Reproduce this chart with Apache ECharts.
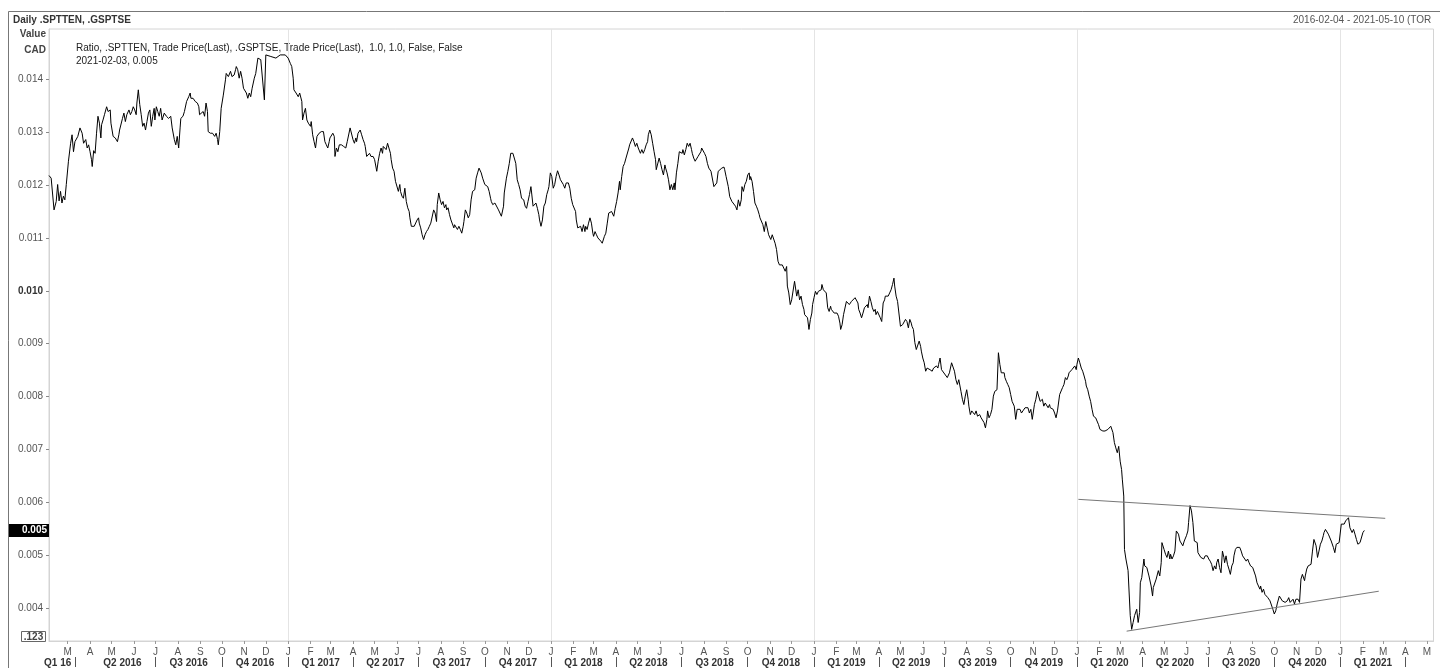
<!DOCTYPE html>
<html>
<head>
<meta charset="utf-8">
<script src="https://cdn.jsdelivr.net/npm/echarts@6/dist/echarts.min.js"></script>
<style>
html, body { margin: 0; padding: 0; background: #fff; }
#main { width: 1440px; height: 668px; }
</style>
</head>
<body>
<div id="main"></div>
<script>
// axis range (calendar days) and tick labels
const startDate = '2016-02-04';
const endDate = '2021-05-10';
const yTicks = [0.004, 0.005, 0.006, 0.007, 0.008, 0.009, 0.010, 0.011, 0.012, 0.013, 0.014];
const monthLetters = ['J', 'F', 'M', 'A', 'M', 'J', 'J', 'A', 'S', 'O', 'N', 'D'];
const quarterLabels = [
  ['2016-02-16', 'Q1 16'], ['2016-05-16', 'Q2 2016'], ['2016-08-16', 'Q3 2016'], ['2016-11-16', 'Q4 2016'],
  ['2017-02-15', 'Q1 2017'], ['2017-05-16', 'Q2 2017'], ['2017-08-16', 'Q3 2017'], ['2017-11-16', 'Q4 2017'],
  ['2018-02-15', 'Q1 2018'], ['2018-05-16', 'Q2 2018'], ['2018-08-16', 'Q3 2018'], ['2018-11-16', 'Q4 2018'],
  ['2019-02-15', 'Q1 2019'], ['2019-05-16', 'Q2 2019'], ['2019-08-16', 'Q3 2019'], ['2019-11-16', 'Q4 2019'],
  ['2020-02-15', 'Q1 2020'], ['2020-05-16', 'Q2 2020'], ['2020-08-16', 'Q3 2020'], ['2020-11-16', 'Q4 2020'],
  ['2021-02-15', 'Q1 2021']
];
const quarterSeps = ['2016-03-11', '2016-07-01', '2016-10-01',
  '2017-01-01', '2017-04-01', '2017-07-01', '2017-10-01',
  '2018-01-01', '2018-04-01', '2018-07-01', '2018-10-01',
  '2019-01-01', '2019-04-01', '2019-07-01', '2019-10-01',
  '2020-01-01', '2020-04-01', '2020-07-01', '2020-10-01',
  '2021-01-01', '2021-04-01'];

// ratio .SPTTEN / .GSPTSE, [month-day, value] per year
const ratio2016 = [['02-04',0.01218],['02-07',0.01213],['02-11',0.01153],['02-14',0.01169],['02-16',0.01201],['02-18',0.01170],['02-20',0.01188],['02-22',0.01166],['02-24',0.01179],['02-26',0.01172],['02-28',0.01201],['03-02',0.01245],['03-05',0.01279],['03-07',0.01295],['03-09',0.01263],['03-11',0.01282],['03-13',0.01279],['03-15',0.01292],['03-18',0.01308],['03-21',0.01298],['03-23',0.01279],['03-26',0.01286],['03-28',0.01270],['03-30',0.01276],['04-01',0.01263],['04-03',0.01248],['04-04',0.01235],['04-06',0.01265],['04-08',0.01260],['04-10',0.01298],['04-12',0.01330],['04-14',0.01317],['04-16',0.01289],['04-17',0.01314],['04-19',0.01323],['04-21',0.01333],['04-24',0.01348],['04-26',0.01339],['04-29',0.01342],['04-30',0.01317],['05-03',0.01292],['05-06',0.01289],['05-09',0.01282],['05-11',0.01295],['05-12',0.01304],['05-14',0.01301],['05-16',0.01326],['05-18',0.01336],['05-20',0.01320],['05-22',0.01333],['05-23',0.01330],['05-25',0.01342],['05-27',0.01333],['05-29',0.01339],['05-31',0.01348],['06-02',0.01342],['06-04',0.01333],['06-05',0.01355],['06-07',0.01380],['06-09',0.01352],['06-11',0.01333],['06-13',0.01311],['06-15',0.01317],['06-17',0.01304],['06-19',0.01320],['06-21',0.01336],['06-23',0.01342],['06-25',0.01311],['06-27',0.01330],['06-29',0.01345],['06-30',0.01323],['07-02',0.01348],['07-04',0.01339],['07-06',0.01330],['07-08',0.01345],['07-10',0.01323],['07-13',0.01336],['07-16',0.01330],['07-19',0.01326],['07-22',0.01330],['07-24',0.01308],['07-27',0.01286],['07-29',0.01276],['07-31',0.01292],['08-02',0.01270],['08-04',0.01308],['08-05',0.01326],['08-08',0.01330],['08-10',0.01339],['08-13',0.01358],['08-16',0.01367],['08-18',0.01374],['08-19',0.01364],['08-22',0.01364],['08-25',0.01358],['08-28',0.01355],['08-30',0.01348],['08-31',0.01333],['09-02',0.01330],['09-05',0.01339],['09-07',0.01330],['09-09',0.01355],['09-11',0.01339],['09-12',0.01301],['09-15',0.01298],['09-18',0.01298],['09-21',0.01292],['09-23',0.01298],['09-25',0.01286],['09-26',0.01276],['09-28',0.01301],['09-30',0.01345],['10-03',0.01370],['10-06',0.01399],['10-07',0.01411],['10-10',0.01405],['10-13',0.01415],['10-15',0.01405],['10-18',0.01408],['10-20',0.01418],['10-21',0.01424],['10-23',0.01418],['10-25',0.01402],['10-27',0.01415],['10-29',0.01402],['10-31',0.01383],['11-01',0.01380],['11-04',0.01374],['11-06',0.01364],['11-08',0.01374],['11-10',0.01367],['11-12',0.01383],['11-14',0.01386],['11-15',0.01402],['11-17',0.01411],['11-20',0.01440],['11-22',0.01443],['11-24',0.01437],['11-26',0.01440],['11-29',0.01361],['12-01',0.01446],['12-03',0.01443],['12-08',0.01443],['12-15',0.01440],['12-21',0.01446],['12-28',0.01446]];
const ratio2017 = [['01-01',0.01440],['01-04',0.01430],['01-06',0.01424],['01-08',0.01402],['01-09',0.01380],['01-12',0.01374],['01-15',0.01367],['01-17',0.01374],['01-20',0.01358],['01-21',0.01323],['01-23',0.01336],['01-25',0.01345],['01-27',0.01323],['01-29',0.01317],['02-01',0.01311],['02-02',0.01320],['02-04',0.01295],['02-06',0.01282],['02-08',0.01270],['02-10',0.01292],['02-13',0.01298],['02-14',0.01295],['02-16',0.01301],['02-19',0.01301],['02-21',0.01282],['02-23',0.01276],['02-25',0.01270],['02-27',0.01282],['02-28',0.01289],['03-02',0.01286],['03-04',0.01298],['03-06',0.01292],['03-07',0.01254],['03-09',0.01270],['03-11',0.01263],['03-13',0.01276],['03-16',0.01276],['03-19',0.01273],['03-22',0.01270],['03-24',0.01282],['03-26',0.01279],['03-28',0.01308],['03-30',0.01311],['04-01',0.01286],['04-03',0.01279],['04-05',0.01289],['04-06',0.01282],['04-08',0.01298],['04-11',0.01304],['04-13',0.01295],['04-15',0.01286],['04-17',0.01279],['04-18',0.01273],['04-20',0.01254],['04-22',0.01251],['04-24',0.01260],['04-26',0.01254],['04-28',0.01257],['04-29',0.01254],['05-01',0.01248],['05-04',0.01226],['05-06',0.01245],['05-08',0.01260],['05-10',0.01270],['05-12',0.01260],['05-13',0.01273],['05-15',0.01276],['05-17',0.01267],['05-19',0.01279],['05-21',0.01276],['05-23',0.01260],['05-24',0.01248],['05-26',0.01232],['05-28',0.01226],['05-30',0.01207],['06-01',0.01204],['06-03',0.01188],['06-05',0.01201],['06-06',0.01188],['06-08',0.01179],['06-10',0.01175],['06-12',0.01194],['06-14',0.01169],['06-16',0.01157],['06-18',0.01150],['06-19',0.01138],['06-21',0.01122],['06-23',0.01119],['06-25',0.01122],['06-27',0.01125],['06-29',0.01134],['07-01',0.01138],['07-02',0.01128],['07-04',0.01119],['07-06',0.01106],['07-08',0.01097],['07-10',0.01106],['07-12',0.01112],['07-14',0.01116],['07-16',0.01122],['07-18',0.01128],['07-20',0.01131],['07-22',0.01153],['07-24',0.01147],['07-26',0.01131],['07-27',0.01163],['07-29',0.01185],['07-31',0.01172],['08-02',0.01163],['08-04',0.01169],['08-06',0.01157],['08-08',0.01163],['08-09',0.01153],['08-11',0.01157],['08-13',0.01144],['08-15',0.01134],['08-17',0.01131],['08-19',0.01119],['08-20',0.01125],['08-22',0.01122],['08-24',0.01116],['08-26',0.01122],['08-28',0.01116],['08-30',0.01109],['09-01',0.01122],['09-02',0.01131],['09-04',0.01153],['09-06',0.01147],['09-08',0.01138],['09-10',0.01144],['09-12',0.01172],['09-14',0.01188],['09-15',0.01185],['09-17',0.01191],['09-19',0.01213],['09-21',0.01223],['09-23',0.01232],['09-25',0.01232],['09-26',0.01223],['09-28',0.01213],['10-01',0.01201],['10-03',0.01204],['10-05',0.01197],['10-07',0.01188],['10-09',0.01175],['10-10',0.01169],['10-12',0.01163],['10-15',0.01166],['10-17',0.01163],['10-20',0.01153],['10-24',0.01141],['10-27',0.01160],['10-28',0.01185],['10-31',0.01213],['11-02',0.01226],['11-04',0.01241],['11-06',0.01260],['11-09',0.01260],['11-11',0.01257],['11-13',0.01241],['11-15',0.01210],['11-17',0.01201],['11-19',0.01191],['11-21',0.01175],['11-22',0.01178],['11-24',0.01172],['11-26',0.01160],['11-28',0.01156],['11-30',0.01169],['12-02',0.01182],['12-04',0.01197],['12-05',0.01185],['12-07',0.01160],['12-09',0.01160],['12-11',0.01166],['12-13',0.01156],['12-15',0.01144],['12-16',0.01134],['12-18',0.01122],['12-20',0.01134],['12-22',0.01160],['12-24',0.01166],['12-26',0.01182],['12-28',0.01191],['12-29',0.01197],['12-31',0.01223]];
const ratio2018 = [['01-02',0.01216],['01-04',0.01194],['01-06',0.01201],['01-08',0.01216],['01-10',0.01227],['01-12',0.01219],['01-14',0.01210],['01-16',0.01213],['01-18',0.01201],['01-20',0.01194],['01-22',0.01204],['01-23',0.01207],['01-25',0.01204],['01-27',0.01194],['01-29',0.01175],['01-31',0.01163],['02-02',0.01160],['02-04',0.01150],['02-05',0.01134],['02-07',0.01119],['02-09',0.01116],['02-11',0.01122],['02-13',0.01112],['02-15',0.01125],['02-17',0.01112],['02-18',0.01122],['02-20',0.01116],['02-22',0.01128],['02-24',0.01138],['02-26',0.01128],['02-28',0.01109],['03-01',0.01103],['03-03',0.01112],['03-05',0.01106],['03-07',0.01100],['03-09',0.01097],['03-11',0.01094],['03-13',0.01090],['03-14',0.01090],['03-16',0.01103],['03-18',0.01109],['03-20',0.01128],['03-22',0.01147],['03-24',0.01144],['03-26',0.01150],['03-27',0.01153],['03-29',0.01141],['03-31',0.01156],['04-02',0.01169],['04-04',0.01185],['04-06',0.01207],['04-07',0.01191],['04-09',0.01216],['04-11',0.01235],['04-13',0.01241],['04-15',0.01251],['04-17',0.01254],['04-19',0.01270],['04-20',0.01276],['04-22',0.01279],['04-24',0.01289],['04-26',0.01282],['04-28',0.01273],['04-30',0.01279],['05-02',0.01270],['05-03',0.01267],['05-05',0.01260],['05-07',0.01267],['05-09',0.01260],['05-11',0.01267],['05-13',0.01276],['05-15',0.01282],['05-16',0.01295],['05-18',0.01304],['05-20',0.01295],['05-22',0.01279],['05-24',0.01263],['05-26',0.01248],['05-27',0.01229],['05-29',0.01226],['05-31',0.01251],['06-02',0.01241],['06-04',0.01229],['06-06',0.01219],['06-08',0.01238],['06-09',0.01232],['06-11',0.01223],['06-13',0.01210],['06-15',0.01191],['06-17',0.01201],['06-19',0.01191],['06-21',0.01204],['06-22',0.01191],['06-24',0.01223],['06-26',0.01241],['06-28',0.01263],['06-30',0.01263],['07-02',0.01260],['07-03',0.01267],['07-05',0.01257],['07-07',0.01267],['07-09',0.01279],['07-11',0.01273],['07-13',0.01279],['07-15',0.01267],['07-16',0.01260],['07-18',0.01251],['07-20',0.01245],['07-22',0.01248],['07-24',0.01254],['07-26',0.01257],['07-28',0.01263],['07-29',0.01270],['07-31',0.01267],['08-02',0.01260],['08-04',0.01254],['08-06',0.01241],['08-08',0.01232],['08-10',0.01235],['08-11',0.01226],['08-13',0.01226],['08-15',0.01197],['08-17',0.01197],['08-19',0.01204],['08-21',0.01226],['08-22',0.01229],['08-26',0.01232],['08-29',0.01234],['08-30',0.01229],['09-01',0.01216],['09-04',0.01197],['09-06',0.01178],['09-09',0.01169],['09-11',0.01166],['09-14',0.01160],['09-16',0.01153],['09-18',0.01172],['09-20',0.01160],['09-22',0.01172],['09-23',0.01197],['09-25',0.01188],['09-27',0.01201],['09-29',0.01207],['10-01',0.01219],['10-03',0.01223],['10-04',0.01210],['10-05',0.01216],['10-07',0.01207],['10-09',0.01188],['10-11',0.01166],['10-13',0.01160],['10-15',0.01153],['10-17',0.01144],['10-18',0.01138],['10-20',0.01138],['10-22',0.01125],['10-24',0.01112],['10-26',0.01131],['10-28',0.01119],['10-30',0.01106],['10-31',0.01106],['11-02',0.01097],['11-04',0.01106],['11-06',0.01103],['11-08',0.01090],['11-10',0.01078],['11-11',0.01075],['11-12',0.01056],['11-14',0.01049],['11-16',0.01046],['11-18',0.01049],['11-20',0.01043],['11-22',0.01037],['11-24',0.01046],['11-25',0.01009],['11-27',0.00996],['11-29',0.00974],['12-01',0.00983],['12-03',0.00980],['12-05',0.01018],['12-06',0.01021],['12-08',0.00990],['12-10',0.01002],['12-12',0.00983],['12-14',0.00990],['12-16',0.00974],['12-18',0.00965],['12-19',0.00955],['12-21',0.00958],['12-23',0.00949],['12-25',0.00927],['12-27',0.00946],['12-29',0.00958],['12-30',0.00974]];
const ratio2019 = [['01-01',0.00987],['01-03',0.00999],['01-05',0.00993],['01-07',0.00999],['01-09',0.00999],['01-11',0.01002],['01-12',0.01012],['01-14',0.01002],['01-16',0.01002],['01-18',0.00996],['01-20',0.00968],['01-22',0.00961],['01-24',0.00971],['01-25',0.00965],['01-27',0.00968],['01-29',0.00958],['01-31',0.00955],['02-02',0.00958],['02-04',0.00952],['02-06',0.00939],['02-07',0.00927],['02-09',0.00936],['02-11',0.00955],['02-13',0.00958],['02-15',0.00980],['02-17',0.00983],['02-19',0.00974],['02-20',0.00977],['02-22',0.00980],['02-24',0.00983],['02-27',0.00987],['03-01',0.00990],['03-03',0.00977],['03-04',0.00965],['03-06',0.00958],['03-08',0.00949],['03-10',0.00958],['03-12',0.00968],['03-14',0.00971],['03-16',0.00974],['03-17',0.00968],['03-19',0.00990],['03-21',0.00980],['03-23',0.00968],['03-25',0.00961],['03-27',0.00965],['03-28',0.00955],['03-30',0.00961],['04-01',0.00958],['04-03',0.00949],['04-05',0.00942],['04-07',0.00977],['04-09',0.00983],['04-10',0.00990],['04-12',0.00993],['04-14',0.00990],['04-16',0.00996],['04-18',0.01002],['04-20',0.01012],['04-22',0.01024],['04-23',0.01009],['04-25',0.00990],['04-27',0.00980],['04-29',0.00977],['05-01',0.00933],['05-03',0.00933],['05-04',0.00936],['05-06',0.00933],['05-08',0.00946],['05-10',0.00942],['05-12',0.00930],['05-14',0.00946],['05-16',0.00939],['05-17',0.00933],['05-19',0.00927],['05-21',0.00902],['05-23',0.00889],['05-25',0.00892],['05-27',0.00905],['05-29',0.00895],['05-30',0.00886],['06-01',0.00873],['06-03',0.00864],['06-05',0.00848],['06-07',0.00854],['06-09',0.00854],['06-11',0.00851],['06-12',0.00854],['06-14',0.00848],['06-16',0.00854],['06-18',0.00851],['06-20',0.00858],['06-22',0.00854],['06-23',0.00861],['06-25',0.00873],['06-27',0.00851],['06-29',0.00848],['07-05',0.00836],['07-08',0.00845],['07-11',0.00864],['07-13',0.00861],['07-15',0.00848],['07-17',0.00832],['07-19',0.00823],['07-21',0.00832],['07-23',0.00832],['07-24',0.00810],['07-26',0.00795],['07-28',0.00785],['07-30',0.00801],['08-01',0.00813],['08-03',0.00795],['08-04',0.00782],['08-06',0.00766],['08-08',0.00773],['08-10',0.00776],['08-12',0.00766],['08-14',0.00773],['08-16',0.00763],['08-17',0.00760],['08-19',0.00766],['08-21',0.00760],['08-23',0.00757],['08-25',0.00751],['08-27',0.00741],['08-29',0.00757],['08-30',0.00773],['09-01',0.00760],['09-03',0.00766],['09-05',0.00776],['09-07',0.00801],['09-09',0.00810],['09-11',0.00810],['09-12',0.00813],['09-14',0.00883],['09-16',0.00861],['09-18',0.00845],['09-20',0.00842],['09-22',0.00845],['09-23',0.00836],['09-25',0.00829],['09-27',0.00823],['09-29',0.00817],['10-01',0.00804],['10-03',0.00791],['10-05',0.00788],['10-06',0.00782],['10-08',0.00757],['10-10',0.00776],['10-12',0.00773],['10-14',0.00776],['10-16',0.00769],['10-18',0.00773],['10-19',0.00776],['10-21',0.00779],['10-23',0.00776],['10-25',0.00779],['10-27',0.00769],['10-29',0.00776],['10-31',0.00757],['11-01',0.00760],['11-03',0.00785],['11-05',0.00795],['11-07',0.00810],['11-09',0.00807],['11-11',0.00791],['11-12',0.00788],['11-14',0.00795],['11-16',0.00782],['11-18',0.00788],['11-20',0.00785],['11-22',0.00779],['11-24',0.00785],['11-25',0.00779],['11-27',0.00782],['11-29',0.00776],['12-01',0.00769],['12-03',0.00760],['12-05',0.00773],['12-07',0.00776],['12-08',0.00804],['12-10',0.00807],['12-12',0.00817],['12-14',0.00823],['12-16',0.00836],['12-18',0.00832],['12-20',0.00839],['12-21',0.00845],['12-23',0.00848],['12-25',0.00851],['12-27',0.00851],['12-29',0.00858],['12-31',0.00851]];
const ratio2020 = [['01-01',0.00861],['01-03',0.00873],['01-05',0.00864],['01-07',0.00854],['01-09',0.00848],['01-11',0.00839],['01-13',0.00829],['01-14',0.00820],['01-16',0.00813],['01-18',0.00801],['01-20',0.00791],['01-22',0.00776],['01-24',0.00763],['01-26',0.00766],['01-27',0.00760],['01-29',0.00763],['01-31',0.00747],['02-02',0.00738],['02-04',0.00741],['02-06',0.00735],['02-07',0.00738],['02-09',0.00735],['02-11',0.00732],['02-13',0.00738],['02-15',0.00735],['02-17',0.00744],['02-19',0.00747],['02-20',0.00732],['02-22',0.00713],['02-24',0.00703],['02-26',0.00694],['02-28',0.00706],['03-01',0.00678],['03-03',0.00662],['03-04',0.00644],['03-06',0.00612],['03-07',0.00511],['03-09',0.00493],['03-12',0.00471],['03-14',0.00471],['03-15',0.00386],['03-17',0.00360],['03-19',0.00373],['03-21',0.00386],['03-24',0.00398],['03-26',0.00373],['03-28',0.00392],['03-29',0.00448],['03-31',0.00458],['04-03',0.00493],['04-04',0.00480],['04-07',0.00477],['04-10',0.00461],['04-13',0.00442],['04-15',0.00423],['04-16',0.00439],['04-18',0.00436],['04-20',0.00455],['04-23',0.00471],['04-25',0.00461],['04-27',0.00486],['04-28',0.00524],['05-01',0.00511],['05-03',0.00502],['05-05',0.00496],['05-07',0.00508],['05-09',0.00493],['05-10',0.00502],['05-12',0.00493],['05-14',0.00499],['05-16',0.00508],['05-18',0.00546],['05-21',0.00540],['05-23',0.00527],['05-25',0.00524],['05-27',0.00518],['05-29',0.00527],['06-01',0.00537],['06-03',0.00546],['06-04',0.00562],['06-06',0.00594],['06-08',0.00584],['06-10',0.00562],['06-12',0.00527],['06-14',0.00530],['06-16',0.00524],['06-17',0.00505],['06-19',0.00502],['06-21',0.00496],['06-23',0.00499],['06-25',0.00493],['06-27',0.00499],['06-29',0.00496],['06-30',0.00499],['07-02',0.00493],['07-04',0.00489],['07-06',0.00483],['07-08',0.00471],['07-10',0.00480],['07-12',0.00474],['07-13',0.00486],['07-15',0.00493],['07-17',0.00477],['07-19',0.00467],['07-21',0.00508],['07-23',0.00496],['07-24',0.00486],['07-26',0.00499],['07-28',0.00483],['07-30',0.00474],['08-01',0.00464],['08-03',0.00480],['08-05',0.00486],['08-06',0.00499],['08-08',0.00511],['08-10',0.00515],['08-12',0.00518],['08-14',0.00515],['08-16',0.00508],['08-18',0.00499],['08-19',0.00499],['08-21',0.00493],['08-23',0.00489],['08-25',0.00493],['08-27',0.00486],['08-29',0.00480],['08-31',0.00483],['09-01',0.00477],['09-03',0.00474],['09-05',0.00461],['09-07',0.00448],['09-09',0.00442],['09-11',0.00436],['09-12',0.00442],['09-14',0.00430],['09-16',0.00436],['09-18',0.00426],['09-20',0.00423],['09-22',0.00420],['09-24',0.00423],['09-25',0.00414],['09-27',0.00411],['09-29',0.00398],['10-01',0.00389],['10-03',0.00395],['10-05',0.00408],['10-07',0.00411],['10-08',0.00423],['10-10',0.00420],['10-12',0.00414],['10-14',0.00417],['10-16',0.00411],['10-18',0.00408],['10-19',0.00414],['10-21',0.00420],['10-23',0.00411],['10-25',0.00414],['10-27',0.00417],['10-29',0.00408],['10-31',0.00417],['11-01',0.00420],['11-03',0.00417],['11-05',0.00411],['11-07',0.00455],['11-09',0.00464],['11-12',0.00452],['11-13',0.00461],['11-15',0.00474],['11-17',0.00480],['11-19',0.00477],['11-21',0.00483],['11-23',0.00508],['11-25',0.00530],['11-26',0.00527],['11-28',0.00518],['11-30',0.00496],['12-02',0.00508],['12-04',0.00521],['12-06',0.00527],['12-08',0.00537],['12-09',0.00543],['12-11',0.00549],['12-13',0.00546],['12-15',0.00540],['12-17',0.00543],['12-19',0.00527],['12-20',0.00524],['12-22',0.00515],['12-24',0.00505],['12-26',0.00521],['12-28',0.00524],['12-30',0.00524]];
const ratio2021 = [['01-01',0.00527],['01-02',0.00559],['01-04',0.00562],['01-06',0.00559],['01-08',0.00565],['01-10',0.00568],['01-12',0.00571],['01-14',0.00552],['01-15',0.00549],['01-17',0.00543],['01-19',0.00549],['01-21',0.00540],['01-23',0.00530],['01-25',0.00521],['01-27',0.00524],['01-28',0.00524],['01-30',0.00527],['02-01',0.00543],['02-03',0.00547]];

// drawn trend lines (two end points each)
const upperTrend = [['2020-01-03', 0.006058], ['2021-03-04', 0.005699]];
const lowerTrend = [['2020-03-10', 0.003566], ['2021-02-23', 0.004321]];
const lastValue = 0.00547;

const FONT = '"Liberation Sans", Arial, sans-serif';

// daily categories
const days = [];
for (let t = Date.parse(startDate + 'T00:00:00Z'); t <= Date.parse(endDate + 'T00:00:00Z'); t += 86400000) {
  days.push(new Date(t).toISOString().slice(0, 10));
}

const ratioLine = [];
[[2016, ratio2016], [2017, ratio2017], [2018, ratio2018], [2019, ratio2019], [2020, ratio2020], [2021, ratio2021]]
  .forEach(([yr, arr]) => arr.forEach(([md, v]) => ratioLine.push([yr + '-' + md, v])));

const qLabelMap = new Map(quarterLabels);
const qSepSet = new Set(quarterSeps);

const chart = echarts.init(document.getElementById('main'));
chart.setOption({
  animation: false,
  backgroundColor: '#fff',
  grid: { left: 49, right: 6.5, top: 29, bottom: 26, show: true, borderColor: '#d4d4d4', borderWidth: 1 },
  xAxis: [
    {
      type: 'category', data: days, boundaryGap: false, position: 'bottom',
      axisLine: { show: true, lineStyle: { color: '#d4d4d4' } },
      axisTick: { show: true, interval: (i, v) => v.slice(8) === '01', length: 3, lineStyle: { color: '#999' } },
      axisLabel: {
        interval: (i, v) => v.slice(8) === '01',
        formatter: v => monthLetters[+v.slice(5, 7) - 1],
        color: '#555', fontSize: 10, fontFamily: FONT, margin: 6
      },
      splitLine: { show: true, interval: (i, v) => v.slice(5) === '01-01', lineStyle: { color: '#e4e4e4' } }
    },
    {
      type: 'category', data: days, boundaryGap: false, position: 'bottom', offset: 16,
      axisLine: { show: false },
      axisTick: { show: true, interval: (i, v) => qSepSet.has(v), length: 10, lineStyle: { color: '#555' } },
      axisLabel: {
        interval: (i, v) => qLabelMap.has(v),
        formatter: v => qLabelMap.get(v) || '',
        color: '#333', fontSize: 10, fontWeight: 'bold', fontFamily: FONT, margin: 1
      },
      splitLine: { show: false }
    }
  ],
  yAxis: {
    type: 'value', min: 0.00338, max: 0.01495, position: 'left',
    axisLine: { show: true, lineStyle: { color: '#d4d4d4' } },
    axisTick: { show: true, customValues: yTicks, length: 3, lineStyle: { color: '#888' } },
    axisLabel: {
      customValues: yTicks,
      formatter: v => Math.abs(v - 0.01) < 1e-9 ? '{b|0.010}' : v.toFixed(3),
      color: '#555', fontSize: 10, fontFamily: FONT, margin: 6,
      rich: { b: { fontWeight: 'bold', color: '#333', fontSize: 10, fontFamily: FONT } }
    },
    splitLine: { show: false }
  },
  series: [
    {
      type: 'line', data: ratioLine, symbol: 'none', showSymbol: false,
      lineStyle: { color: '#000', width: 1 }, silent: true,
      markLine: {
        silent: true, symbol: 'none', precision: 6,
        lineStyle: { color: 'transparent', width: 1, type: 'solid' },
        data: [{ yAxis: lastValue }],
        label: {
          show: true, position: 'start', distance: 0, formatter: '0.005',
          color: '#fff', backgroundColor: '#000', fontWeight: 'bold', opacity: 1,
          fontSize: 10, fontFamily: FONT, padding: [2, 2, 1, 13]
        }
      }
    },
    { type: 'line', data: upperTrend, symbol: 'none', lineStyle: { color: '#777', width: 1 }, silent: true },
    { type: 'line', data: lowerTrend, symbol: 'none', lineStyle: { color: '#777', width: 1 }, silent: true }
  ],
  graphic: [
    { type: 'rect', silent: true, z: -1, shape: { x: 8.5, y: 11.5, width: 1440, height: 700 }, style: { fill: 'none', stroke: '#777', lineWidth: 1 } },
    { type: 'text', x: 13, y: 20, style: { text: 'Daily .SPTTEN, .GSPTSE', font: 'bold 10px ' + FONT, fill: '#333', verticalAlign: 'middle', textVerticalAlign: 'middle' } },
    { type: 'text', x: 1293, y: 20, style: { text: '2016-02-04 - 2021-05-10 (TOR', font: '10px ' + FONT, fill: '#555', verticalAlign: 'middle', textVerticalAlign: 'middle' } },
    { type: 'text', x: 46, y: 34, style: { text: 'Value', font: 'bold 10px ' + FONT, fill: '#444', align: 'right', textAlign: 'right', verticalAlign: 'middle', textVerticalAlign: 'middle' } },
    { type: 'text', x: 46, y: 50, style: { text: 'CAD', font: 'bold 10px ' + FONT, fill: '#444', align: 'right', textAlign: 'right', verticalAlign: 'middle', textVerticalAlign: 'middle' } },
    { type: 'text', x: 76, y: 48, style: { text: 'Ratio, .SPTTEN, Trade Price(Last), .GSPTSE, Trade Price(Last),  1.0, 1.0, False, False', font: '10px ' + FONT, fill: '#222', verticalAlign: 'middle', textVerticalAlign: 'middle' } },
    { type: 'text', x: 76, y: 61, style: { text: '2021-02-03, 0.005', font: '10px ' + FONT, fill: '#222', verticalAlign: 'middle', textVerticalAlign: 'middle' } },
    { type: 'rect', silent: true, shape: { x: 21.5, y: 631.5, width: 24, height: 10 }, style: { fill: '#fff', stroke: '#666', lineWidth: 1 } },
    { type: 'text', x: 33.5, y: 637, style: { text: '.123', font: 'bold 10px ' + FONT, fill: '#444', align: 'center', textAlign: 'center', verticalAlign: 'middle', textVerticalAlign: 'middle' } }
  ]
});
</script>
</body>
</html>
